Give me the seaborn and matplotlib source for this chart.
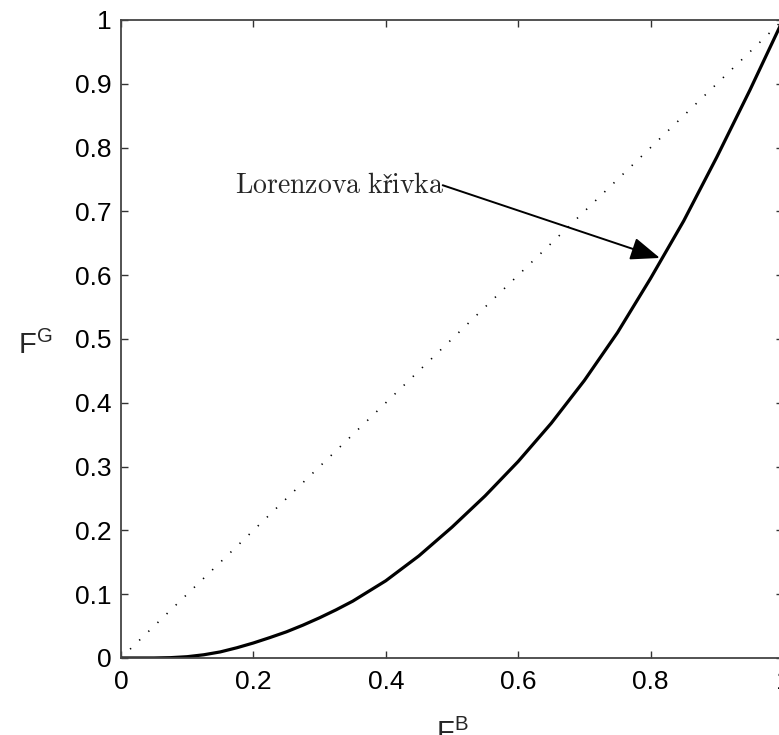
import numpy as np
import pandas as pd
import matplotlib
matplotlib.use('Agg')
import matplotlib.pyplot as plt
import seaborn as sns

# Hodnoty (Lorenzova křivka)
f_b = [0.0, 0.05, 0.075, 0.10, 0.125, 0.15, 0.175, 0.20, 0.225, 0.25, 0.275,
       0.30, 0.325, 0.35, 0.40, 0.45, 0.50, 0.55, 0.60, 0.65, 0.70, 0.75,
       0.80, 0.85, 0.90, 0.95, 1.0]
f_g = [0.0, 0.0, 0.0005, 0.002, 0.005, 0.0095, 0.016, 0.0235, 0.032, 0.041, 0.0515,
       0.063, 0.0755, 0.089, 0.121, 0.160, 0.205, 0.254, 0.308, 0.368, 0.435, 0.510,
       0.595, 0.685, 0.785, 0.890, 1.0]
diag = [0.0, 1.0]

ticks = [0, 0.1, 0.2, 0.3, 0.4, 0.5, 0.6, 0.7, 0.8, 0.9, 1]
tick_labels = ['0', '0.1', '0.2', '0.3', '0.4', '0.5', '0.6', '0.7', '0.8', '0.9', '1']
xticks = [0, 0.2, 0.4, 0.6, 0.8, 1]
xtick_labels = ['0', '0.2', '0.4', '0.6', '0.8', '1']

sns.set_style('ticks')
plt.rcParams['font.family'] = ['Liberation Sans', 'DejaVu Sans']
plt.rcParams['mathtext.rm'] = 'Liberation Sans'
plt.rcParams['mathtext.it'] = 'Liberation Sans:italic'

df = pd.DataFrame({'FB': f_b, 'FG': f_g})

fig = plt.figure(figsize=(7.79, 7.35), dpi=100)
ax = fig.add_axes([0.1553, 0.1048, 0.8498, 0.868])

# diagonala (rovnoměrné rozdělení) - tečkovaně
sns.lineplot(x=diag, y=diag, ax=ax, color='black', lw=1.2,
             linestyle=(0, (0.8, 6.8)))
sns.lineplot(data=df, x='FB', y='FG', ax=ax, color='black', lw=2.3)

ax.set_xlim(0, 1)
ax.set_ylim(0, 1)
ax.set_xticks(xticks)
ax.set_xticklabels(xtick_labels)
ax.set_yticks(ticks)
ax.set_yticklabels(tick_labels)
ax.tick_params(direction='in', length=5, width=1, colors='#333333',
               labelcolor='black', labelsize=19, top=True, right=True)
ax.tick_params(axis='x', pad=9)
ax.tick_params(axis='y', pad=7)
for s in ax.spines.values():
    s.set_linewidth(1.3)
    s.set_color('#444444')

ax.set_xlabel(r'$\mathrm{F}^{\mathrm{B}}$', fontsize=21, math_fontfamily='custom')
ax.set_ylabel(r'$\mathrm{F}^{\mathrm{G}}$', fontsize=21, math_fontfamily='custom',
              rotation=0, ha='center', va='center')
ax.xaxis.set_label_coords(0.5, -0.095)
ax.yaxis.set_label_coords(-0.13, 0.49)

ax.text(0.172, 0.729, r'$\mathrm{Lorenzova\ křivka}$', fontsize=20,
        math_fontfamily='cm', ha='left', va='baseline')
ax.annotate('', xy=(0.814, 0.627), xytext=(0.486, 0.741),
            arrowprops=dict(arrowstyle='-|>,head_length=0.9,head_width=0.35',
                            mutation_scale=20, color='black', lw=1.4,
                            shrinkA=0, shrinkB=0))

fig.savefig('out.png', dpi=100)
